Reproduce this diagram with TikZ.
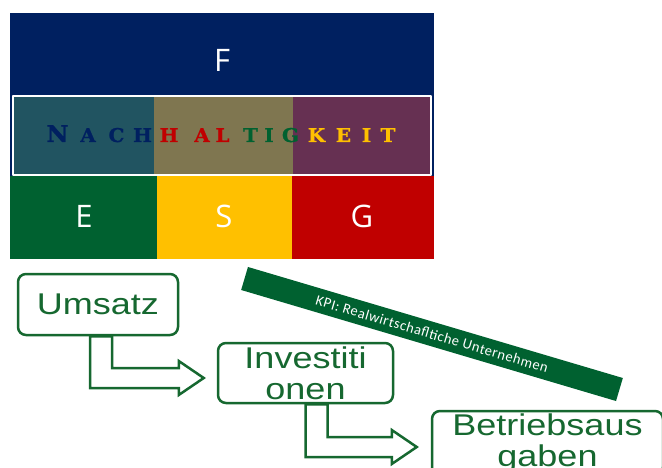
\documentclass[tikz,border=0pt]{standalone}
\usepackage{fontspec}
\setmainfont{Liberation Sans}
\newfontfamily\kastenfont[FakeStretch=1.2]{Liberation Sans}
\newfontfamily\esgfont{Open Sans}
\newfontfamily\titelfont[FakeStretch=1.05,FakeBold=1]{DejaVu Serif}
\newfontfamily\bandfont[LetterSpace=4]{Carlito}
\usepackage{color}
\usetikzlibrary{calc}

\definecolor{navy}{RGB}{0,32,96}
\definecolor{petrol}{RGB}{33,84,97}
\definecolor{oliv}{RGB}{127,118,80}
\definecolor{lila}{RGB}{102,48,82}
\definecolor{esggruen}{RGB}{0,97,48}
\definecolor{esggelb}{RGB}{255,192,0}
\definecolor{esgrot}{RGB}{192,0,0}
\definecolor{kastengruen}{RGB}{22,104,48}

% L-foermiger Blockpfeil: #1 = Start oben am Schaft, #2 = Spitze
\newcommand{\lpfeil}[2]{%
\draw [pfeil] let \p1=(#1), \p2=(#2) in
 (\x1-11pt,\y1) -- (\x1-11pt,\y2-10pt) -- (\x2-25pt,\y2-10pt) -- (\x2-25pt,\y2-17pt)
 -- (\x2,\y2) -- (\x2-25pt,\y2+17pt) -- (\x2-25pt,\y2+10pt) -- (\x1+11pt,\y2+10pt)
 -- (\x1+11pt,\y1) -- cycle;}

\begin{document}
\begin{tikzpicture}[x=1pt,y=-1pt,line cap=round,line join=round,
 esg/.style={text=white,font=\esgfont\fontsize{31}{31}\selectfont},
 titel/.style={anchor=base,inner sep=0pt,font=\titelfont\bfseries\fontsize{19}{19}\selectfont},
 kasten/.style={draw=kastengruen,line width=2.5pt,rounded corners=8pt,fill=white,
  text=kastengruen,align=center,inner sep=0pt,font=\kastenfont\fontsize{30}{31}\selectfont},
 pfeil/.style={draw=kastengruen,line width=2.5pt,line join=miter,fill=white},
 band/.style={fill=esggruen,text=white,minimum width=391pt,minimum height=24pt,inner sep=0pt,
  font=\bandfont\fontsize{14.5}{14.5}\selectfont}]
\clip (0,0) rectangle (662,468);
% Saeulen F / E S G
\fill [color=navy] (10,13) rectangle (434,259);
\fill [color=petrol] (13,96) rectangle (154,175);
\fill [color=oliv] (154,96) rectangle (293,175);
\fill [color=lila] (293,96) rectangle (431,175);
\draw [line width=1.5pt,color=white] (13,96) rectangle (431,175);
\fill [color=esggruen] (10,176) rectangle (157,259);
\fill [color=esggelb] (157,176) rectangle (292,259);
\fill [color=esgrot] (292,176) rectangle (434,259);
\node [esg] (f) at (222,60) {F};
\node [esg] (e) at (84,216) {E};
\node [esg] (s) at (224,216) {S};
\node [esg] (g) at (362,216) {G};
% Schriftzug
\node [titel,text=navy,font=\titelfont\bfseries\fontsize{23}{23}\selectfont] (b1) at (57.5,142) {N};
\foreach \b/\x/\c [count=\i from 2] in {A/88/navy,C/116.5/navy,H/142.5/navy,
 H/169/esgrot,A/202/esgrot,L/222.5/esgrot,T/250.5/esggruen,I/269/esggruen,G/290.5/esggruen,
 K/316.5/esggelb,E/343.5/esggelb,I/366.5/esggelb,T/388/esggelb}
 \node [titel,text=\c] (b\i) at (\x,142) {\b};
% Kaesten
\node [kasten,minimum width=160pt,minimum height=61pt] (umsatz) at (98,304.5) {Umsatz};
\node [kasten,minimum width=175pt,minimum height=60pt] (invest) at (305.5,373) {Investiti\\onen};
\node [kasten,minimum width=231pt,minimum height=64pt] (betrieb) at (547.5,443) {Betriebsaus\\gaben};
\coordinate (p1) at ($(umsatz.south)+(3,0)$);
\coordinate (q1) at ($(invest.west)+(-13,5)$);
\coordinate (p2) at ($(invest.south)+(11,0)$);
\coordinate (q2) at ($(betrieb.west)+(-14,4)$);
\lpfeil{p1}{q1}
\lpfeil{p2}{q2}
% KPI-Band
\node [band,rotate=-16.5] (kpi) at (432,334) {KPI: Realwirtschafltiche Unternehmen};
\end{tikzpicture}
\end{document}
